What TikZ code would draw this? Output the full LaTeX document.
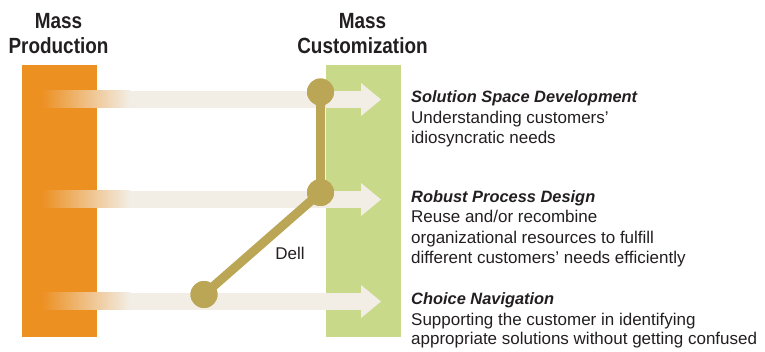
\documentclass[tikz,border=0pt]{standalone}
\usepackage{fontspec}
\newfontfamily\cond[FakeStretch=0.86]{Liberation Sans}
\newfontfamily\plain{Liberation Sans}
\definecolor{mporange}{HTML}{EC9022}
\definecolor{mcgreen}{HTML}{C9D98A}
\definecolor{shaft}{HTML}{F2EEE6}
\definecolor{dellline}{HTML}{BBA656}
\definecolor{ink}{HTML}{231F20}
\begin{document}
\begin{tikzpicture}[x=1pt,y=-1pt,
  head/.style={font=\cond\bfseries\fontsize{22}{25}\selectfont, text=ink, inner sep=0, anchor=base},
  title/.style={font=\plain\bfseries\itshape\fontsize{16.4}{18}\selectfont, text=ink, inner sep=0, anchor=base west},
  body/.style={font=\plain\fontsize{17}{18}\selectfont, text=ink, inner sep=0, anchor=base west},
  dot/.style={circle, fill=dellline, minimum size=27pt, inner sep=0},
  dellpath/.style={draw=dellline, line width=9pt}]
\useasboundingbox (0,0) rectangle (765,352);

% the two columns
\fill[mporange] (22,65) rectangle (97,337);
\fill[mcgreen] (326,65) rectangle (401,337);

% column headings
\node[head] (mp1) at (58.5,29) {Mass};
\node[head] (mp2) at (58.5,54) {Production};
\node[head] (mc1) at (362.5,29) {Mass};
\node[head] (mc2) at (362.5,54) {Customization};

% three arrows, fading in from the orange column
\foreach \y in {99.5,199.5,301.5}{
  \shade[left color=mporange, right color=shaft] (42,\y-8.5) rectangle (130,\y+8.5);
  \fill[shaft] (129.5,\y-8.5) rectangle (361,\y+8.5);
  \fill[shaft] (361,\y-16.5) -- (381,\y) -- (361,\y+16.5) -- cycle;
}

% Dell's path
\node[dot] (d1) at (320.5,92) {};
\node[dot] (d2) at (320.5,192.5) {};
\node[dot] (d3) at (204,294.5) {};
\draw[dellpath] (d1.center) -- (d2.center) -- (d3.center);
\node[dot] at (d1) {};
\node[dot] at (d2) {};
\node[dot] at (d3) {};
\node[font=\plain\fontsize{17}{19}\selectfont, text=ink, inner sep=0, anchor=base] (dell) at (290,260) {Dell};

% capabilities
\node[title] (t1) at (411,103) {Solution Space Development};
\node[body] (t1a) at (411,123.5) {Understanding customers’};
\node[body] (t1b) at (411,143.5) {idiosyncratic needs};

\node[title] (t2) at (411,202.5) {Robust Process Design};
\node[body] (t2a) at (411,223) {Reuse and/or recombine};
\node[body] (t2b) at (411,243.5) {organizational resources to fulfill};
\node[body] (t2c) at (411,264) {different customers’ needs efficiently};

\node[title] (t3) at (411,305) {Choice Navigation};
\node[body] (t3a) at (411,325) {Supporting the customer in identifying};
\node[body] (t3b) at (411,344.5) {appropriate solutions without getting confused};
\end{tikzpicture}
\end{document}
